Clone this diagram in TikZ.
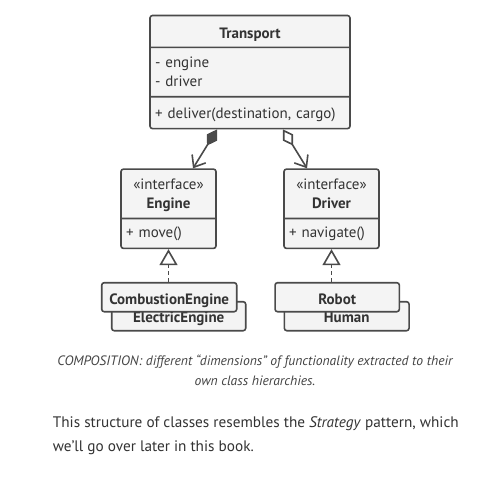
\documentclass[tikz,border=0pt]{standalone}
\usepackage{fontspec}
\setmainfont{PT Sans}
\usetikzlibrary{shapes.multipart,arrows.meta}
\definecolor{umlline}{HTML}{4A4A4A}
\definecolor{umlfill}{HTML}{F4F4F4}
\definecolor{umltext}{HTML}{333333}
\definecolor{captext}{HTML}{444444}
\newcommand{\boxFont}[0]{\fontsize{15}{19}\selectfont}
% strut of given height and depth above/below the baseline
\newcommand{\partStrut}[2]{\rule[-#2pt]{0pt}{\dimexpr#1pt+#2pt\relax}}

\begin{document}
\begin{tikzpicture}[x=1pt, y=-1pt]
  \tikzset{umlclass/.style={rectangle split, draw=umlline, fill=umlfill, line width=1.6pt,
      rounded corners=2.5pt, text=umltext, font=\boxFont, inner xsep=5pt, inner ysep=0pt,
      align=left, anchor=north},
    subclass/.style={draw=umlline, fill=umlfill, line width=1.6pt, rounded corners=2.5pt,
      text=umltext, font=\boxFont\bfseries, inner sep=0pt, minimum height=29pt},
    composition/.style={draw=umlline, line width=1.6pt,
      {Diamond[length=19pt,width=12pt]}-{Straight Barb[length=10pt,width=16pt]}},
    aggregation/.style={draw=umlline, line width=1.6pt,
      {Diamond[open,length=19pt,width=12pt]}-{Straight Barb[length=10pt,width=16pt]}},
    realization/.style={draw=umlline, line width=1.6pt, dash pattern=on 4pt off 3pt,
      -{Triangle[open,fill=white,length=16pt,width=18pt]}}}
  \path[use as bounding box, fill=white] (0,0) rectangle (487,480);

  \node[umlclass, rectangle split parts=3, text width=190pt] (transport) at (250,14.7)
    {\centerline{\bfseries\partStrut{22}{8.3}Transport}
     \nodepart{second}\partStrut{19}{0}- engine\\- driver\partStrut{0}{9.7}
     \nodepart{third}\partStrut{20.6}{9.7}+ deliver(destination, cargo)};

  \node[umlclass, rectangle split parts=2, text width=85pt] (engine) at (168.5,168.3)
    {\centerline{\partStrut{19.4}{0}«interface»}\par\centerline{\bfseries Engine\partStrut{0}{9.4}}
     \nodepart{second}\partStrut{18.3}{10}+ move()};
  \node[umlclass, rectangle split parts=2, text width=85pt] (driver) at (331.5,168.3)
    {\centerline{\partStrut{19.4}{0}«interface»}\par\centerline{\bfseries Driver\partStrut{0}{9.4}}
     \nodepart{second}\partStrut{18.3}{10}+ navigate()};

  % second class of each hierarchy sits behind the first one
  \node[subclass, minimum width=134pt, text height=20.8pt, text depth=8.2pt] (electric)
    at (178.7,316.2) {ElectricEngine};
  \node[subclass, minimum width=135pt, text height=21.3pt, text depth=7.7pt] (combustion)
    at (169.2,297.2) {CombustionEngine};
  \node[subclass, minimum width=124.7pt, text height=20.8pt, text depth=8.2pt] (human)
    at (346.7,316.2) {Human};
  \node[subclass, minimum width=124.3pt, text height=21.3pt, text depth=7.7pt] (robot)
    at (337.2,297.2) {Robot};

  \draw[composition] ([xshift=-33pt]transport.south) -- ([xshift=24.5pt]engine.north);
  \draw[aggregation] ([xshift=33pt]transport.south) -- ([xshift=-24.5pt]driver.north);
  \draw[realization] (combustion.north -| engine.south) -- (engine.south);
  \draw[realization] (robot.north -| driver.south) -- (driver.south);

  \node[font=\fontsize{13.6}{20}\selectfont\itshape, text=captext, align=center, inner sep=0pt]
    (caption) at (255,370.5)
    {COMPOSITION: different “dimensions” of functionality extracted to their\\own class hierarchies.};
  \node[font=\fontsize{15.25}{24.4}\selectfont, text=umltext, align=left, inner sep=0pt,
    anchor=north west] (remark) at (52.7,416.3)
    {This structure of classes resembles the \textit{Strategy} pattern, which\\we’ll go over later in this book.};
\end{tikzpicture}
\end{document}
